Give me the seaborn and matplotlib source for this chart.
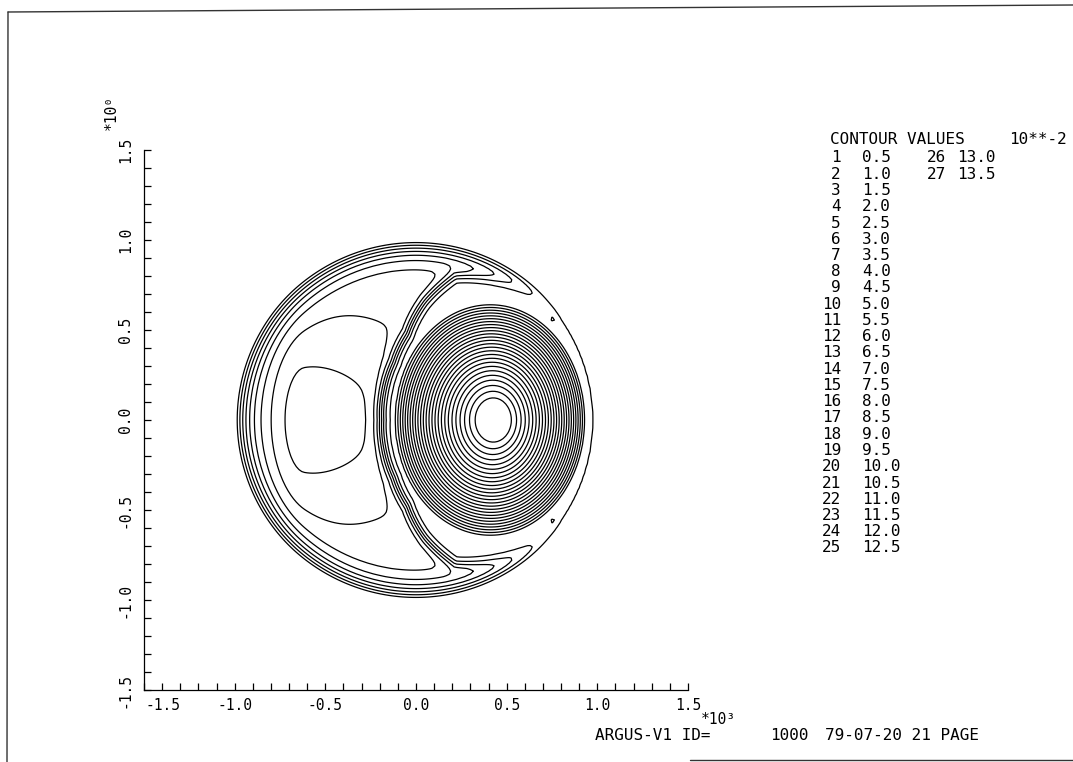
import numpy as np
import matplotlib
matplotlib.use("Agg")
import matplotlib.pyplot as plt
import seaborn as sns
from matplotlib.lines import Line2D
from matplotlib.ticker import MultipleLocator
from matplotlib.transforms import ScaledTranslation

# ---- contour table (values in units of 10**-2) ----
level_ids = list(range(1, 28))
level_values = [0.5, 1.0, 1.5, 2.0, 2.5, 3.0, 3.5, 4.0, 4.5, 5.0,
                5.5, 6.0, 6.5, 7.0, 7.5, 8.0, 8.5, 9.0, 9.5, 10.0,
                10.5, 11.0, 11.5, 12.0, 12.5, 13.0, 13.5]

# ---- axis ticks ----
tick_values = [-1.5, -1.0, -0.5, 0.0, 0.5, 1.0, 1.5]
tick_labels = ["-1.5", "-1.0", "-0.5", "0.0", "0.5", "1.0", "1.5"]

# ---- field model: off-centre peak, left plateau, moat between them ----
peak_center = [0.43, 0.0]
peak_height = 13.86
peak_radius = 0.53
peak_power = 1.6
peak_ecc = 0.04
peak_stretch_y = 1.23
edge_height = 3.85          # wall along the rim
edge_width = 0.11
dome_height = 1.0           # interior dome on the left
dome_center = [-0.617, 0.0]
dome_sigma_x = [0.176, 0.60]   # left / right of the dome centre
dome_sigma_y = 0.463
moat_angle = [0, 50, 60, 75, 90, 105, 120, 135, 150, 165, 180]   # degrees around the peak
moat_reach = [0.95, 0.80, 0.72, 0.745, 0.785, 0.83, 0.76, 0.675, 0.64, 0.628, 0.62]
moat_width = 0.022
moat_level = 0.6
spot_x = [0.755, 0.755]
spot_y = [0.56, -0.56]
spot_height = 0.5

W, H = 1073, 762

sns.set_theme(style="ticks")
plt.rcParams["font.family"] = ["DejaVu Sans Mono", "DejaVu Sans"]
plt.rcParams["text.color"] = "black"

fig = plt.figure(figsize=(W / 100, H / 100), dpi=100)
fig.patch.set_facecolor("white")


def fx(px):
    return px / W


def fy(py):
    return 1 - py / H


def ecc_dist(X, Y, cx, cy, e, sy):
    """Distance whose level sets are circles with centres drifting left as they grow."""
    xt = X - cx
    yt = (Y - cy) / sy
    return (e * xt + np.sqrt(e ** 2 * xt ** 2 + (1 - e ** 2) * (xt ** 2 + yt ** 2))) / (1 - e ** 2)


ax = fig.add_axes([fx(144), fy(690), (688 - 144) / W, (690 - 150) / H])
ax.set_facecolor("white")

# field on a regular grid, zero outside the unit disc
n = 141
g = np.linspace(-1.05, 1.05, n)
X, Y = np.meshgrid(g, g)
R = np.hypot(X, Y)
d = np.clip(1 - R, 0, None)

S = ecc_dist(X, Y, peak_center[0], peak_center[1], peak_ecc, peak_stretch_y)
Q = peak_height * np.clip(1 - (S / peak_radius) ** peak_power, 0, None)

rho = np.hypot(X - peak_center[0], Y - peak_center[1])
phi = np.degrees(np.abs(np.arctan2(Y - peak_center[1], X - peak_center[0])))
reach = np.interp(phi, moat_angle, moat_reach)
M = 1 / (1 + np.exp(-(rho - reach) / moat_width))

sx = np.where(X < dome_center[0], dome_sigma_x[0], dome_sigma_x[1])
G = np.exp(-((X - dome_center[0]) / sx) ** 2 - ((Y - dome_center[1]) / dome_sigma_y) ** 2)
P = edge_height * np.tanh(d / edge_width) + dome_height * G
B = moat_level * np.tanh(d / 0.02)

F = Q + P * M + B * (1 - M)
for px_, py_ in zip(spot_x, spot_y):
    F += spot_height * np.exp(-((X - px_) ** 2 + (Y - py_) ** 2) / 0.02 ** 2)
F[R > 1] = 0.0

ax.contour(X, Y, F, levels=level_values, colors="black", linewidths=0.9)

ax.set_xlim(-1.5, 1.5)
ax.set_ylim(-1.5, 1.5)
sns.despine(ax=ax)
for sp in ("left", "bottom"):
    ax.spines[sp].set_linewidth(0.9)
    ax.spines[sp].set_color("black")

ax.set_xticks(tick_values, tick_labels)
ax.set_yticks(tick_values, tick_labels)
ax.xaxis.set_minor_locator(MultipleLocator(0.1))
ax.yaxis.set_minor_locator(MultipleLocator(0.1))
ax.tick_params(which="both", direction="in", length=5, width=0.9, color="black",
               bottom=True, left=True, top=False, right=False)
ax.tick_params(axis="x", which="major", pad=6, labelsize=10.5, labelcolor="black")
ax.tick_params(axis="y", which="major", pad=8, labelsize=10.5, labelcolor="black")
for lbl in ax.get_yticklabels():
    lbl.set_rotation(90)
    lbl.set_va("center")
first = ax.get_xticklabels()[0]
first.set_transform(first.get_transform() + ScaledTranslation(19 / 100, 0, fig.dpi_scale_trans))

# exponent labels of the axes
fig.text(fx(111), fy(113), "*10\u2070", rotation=90, ha="center", va="center", fontsize=10.5)
fig.text(fx(701), fy(719), "*10\u00b3", ha="left", va="center", fontsize=10.5)

# contour value table
fs = 11.5
fig.text(fx(830), fy(140), "CONTOUR VALUES", ha="left", va="center", fontsize=fs)
fig.text(fx(1067), fy(140), "10**-2", ha="right", va="center", fontsize=fs)
pitch = 16.25
for k, (lid, val) in enumerate(zip(level_ids, level_values)):
    if k < 25:
        yy = 158 + k * pitch
        fig.text(fx(841), fy(yy), str(lid), ha="right", va="center", fontsize=fs)
        fig.text(fx(862), fy(yy), f"{val:.1f}", ha="left", va="center", fontsize=fs)
    else:
        yy = 158 + (k - 25) * pitch
        fig.text(fx(927), fy(yy), str(lid), ha="left", va="center", fontsize=fs)
        fig.text(fx(957), fy(yy), f"{val:.1f}", ha="left", va="center", fontsize=fs)

# footer
fig.text(fx(595), fy(735), "ARGUS-V1 ID=", ha="left", va="center", fontsize=fs)
fig.text(fx(770), fy(735), "1000", ha="left", va="center", fontsize=fs)
fig.text(fx(825), fy(735), "79-07-20 21 PAGE", ha="left", va="center", fontsize=fs)

# sheet edges
edge_kw = dict(color="#333333", linewidth=1.0, transform=fig.transFigure)
fig.add_artist(Line2D([fx(8), fx(1073)], [fy(12), fy(5)], **edge_kw))
fig.add_artist(Line2D([fx(8), fx(7)], [fy(12), fy(762)], **edge_kw))
fig.add_artist(Line2D([fx(690), fx(1073)], [fy(760), fy(760)], **edge_kw))

fig.savefig("out.png", dpi=100, facecolor="white")
